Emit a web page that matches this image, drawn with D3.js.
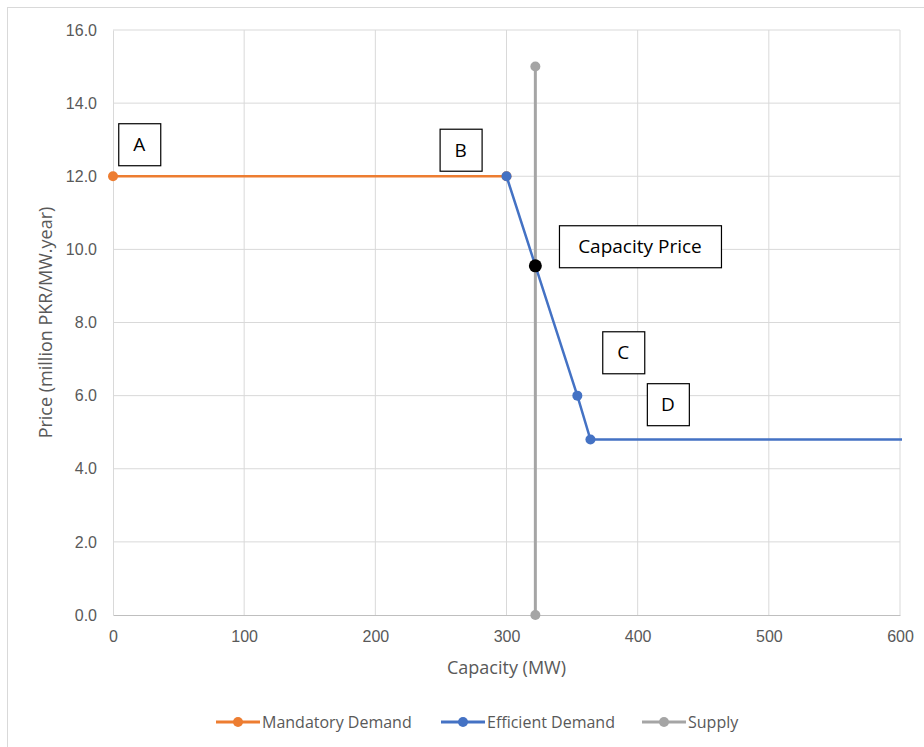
<!DOCTYPE html>
<html>
<head>
<meta charset="utf-8">
<script src="https://cdn.jsdelivr.net/npm/d3@7"></script>
<style>
  html, body { margin: 0; padding: 0; background: #fff; }
  svg { display: block; font-family: "Open Sans", Lato, "Noto Sans", sans-serif; }
</style>
</head>
<body>
<svg id="chart" width="924" height="747"></svg>
<script>
// Demand and supply curves for the capacity market
const mandatoryDemand = [
  { capacity: 0, price: 12.0 },
  { capacity: 300, price: 12.0 }
];
const efficientDemand = [
  { capacity: 300, price: 12.0 },
  { capacity: 354, price: 6.0 },
  { capacity: 364, price: 4.8 },
  { capacity: 700, price: 4.8 }
];
const supply = [
  { capacity: 322, price: 0.0 },
  { capacity: 322, price: 15.0 }
];
const clearingPoint = { capacity: 322, price: 9.55 };

const xTicks = [0, 100, 200, 300, 400, 500, 600];
const yTicks = [0, 2, 4, 6, 8, 10, 12, 14, 16];

// Text boxes anchored at (capacity, price) of their top-left corner
const labelBoxes = [
  { text: "A", capacity: 4, price: 13.45 },
  { text: "B", capacity: 249, price: 13.3 },
  { text: "Capacity Price", capacity: 340, price: 10.66 },
  { text: "C", capacity: 373, price: 7.76 },
  { text: "D", capacity: 407, price: 6.34 }
];

const seriesInfo = [
  { name: "Mandatory Demand", color: "#ED7D31", data: mandatoryDemand },
  { name: "Efficient Demand", color: "#4472C4", data: efficientDemand },
  { name: "Supply", color: "#A5A5A5", data: supply }
];

const svg = d3.select("#chart");
const margin = { left: 113, right: 24, top: 30, bottom: 132 };
const W = 924, H = 747;

// Outer chart frame
svg.append("rect")
  .attr("x", 7.5).attr("y", 7.5)
  .attr("width", W + 20).attr("height", H + 20)
  .attr("fill", "none").attr("stroke", "#d9d9d9").attr("stroke-width", 1);

const x = d3.scaleLinear().domain([0, 600]).range([margin.left, W - margin.right]);
const y = d3.scaleLinear().domain([0, 16]).range([H - margin.bottom, margin.top]);

// Gridlines
svg.append("g")
  .selectAll("line.vg").data(xTicks.filter(d => d > 0)).join("line")
  .attr("x1", d => x(d)).attr("x2", d => x(d))
  .attr("y1", y(16)).attr("y2", y(0))
  .attr("stroke", "#d9d9d9").attr("stroke-width", 1);
svg.append("g")
  .selectAll("line.hg").data(yTicks.filter(d => d > 0)).join("line")
  .attr("x1", x(0)).attr("x2", x(600))
  .attr("y1", d => y(d)).attr("y2", d => y(d))
  .attr("stroke", "#d9d9d9").attr("stroke-width", 1);

// Axes
const xAxis = svg.append("g")
  .attr("transform", `translate(0,${y(0)})`)
  .call(d3.axisBottom(x).tickValues(xTicks).tickSize(0).tickPadding(16).tickFormat(d3.format("d")));
xAxis.select(".domain").attr("stroke", "#bfbfbf").attr("stroke-width", 1);
xAxis.selectAll("text").attr("fill", "#595959").attr("font-size", 16);

const yAxis = svg.append("g")
  .attr("transform", `translate(${x(0)},0)`)
  .call(d3.axisLeft(y).tickValues(yTicks).tickSize(0).tickPadding(16).tickFormat(d3.format(".1f")));
yAxis.select(".domain").attr("stroke", "#d9d9d9").attr("stroke-width", 1);
yAxis.selectAll("text").attr("fill", "#595959").attr("font-size", 16);

// Axis titles
svg.append("text")
  .attr("x", (x(0) + x(600)) / 2).attr("y", 674)
  .attr("text-anchor", "middle").attr("fill", "#595959").attr("font-size", 18)
  .text("Capacity (MW)");
svg.append("text")
  .attr("transform", `translate(52,${(y(0) + y(16)) / 2}) rotate(-90)`)
  .attr("text-anchor", "middle").attr("fill", "#595959").attr("font-size", 18)
  .text("Price (million PKR/MW.year)");

// Series
svg.append("defs").append("clipPath").attr("id", "plot-clip")
  .append("rect")
  .attr("x", x(0) - 8).attr("y", y(16) - 8)
  .attr("width", x(600) - x(0) + 10).attr("height", y(0) - y(16) + 16);

const line = d3.line().x(d => x(d.capacity)).y(d => y(d.price));
const plot = svg.append("g").attr("clip-path", "url(#plot-clip)");

const drawOrder = [seriesInfo[2], seriesInfo[0], seriesInfo[1]];
drawOrder.forEach(s => {
  plot.append("path")
    .datum(s.data)
    .attr("d", line)
    .attr("fill", "none")
    .attr("stroke", s.color)
    .attr("stroke-width", s.name === "Supply" ? 3 : 2.5);
  plot.selectAll(null)
    .data(s.data.filter(d => d.capacity <= 600))
    .join("circle")
    .attr("cx", d => x(d.capacity)).attr("cy", d => y(d.price))
    .attr("r", 5)
    .attr("fill", s.color);
});

// Market clearing point
svg.append("circle")
  .attr("cx", x(clearingPoint.capacity)).attr("cy", y(clearingPoint.price))
  .attr("r", 6.5).attr("fill", "#000");

// Annotation boxes
labelBoxes.forEach(b => {
  const g = svg.append("g");
  const t = g.append("text")
    .attr("font-size", 19).attr("fill", "#000")
    .attr("text-anchor", "middle")
    .text(b.text);
  const wide = b.text.length > 1;
  const bw = wide ? 162 : 42;
  const bh = 42;
  const bx = x(b.capacity), by = y(b.price);
  g.insert("rect", "text")
    .attr("x", bx + 0.5).attr("y", by + 0.5)
    .attr("width", bw).attr("height", bh)
    .attr("fill", "#fff").attr("stroke", "#000").attr("stroke-width", 1.2);
  t.attr("x", bx + bw / 2).attr("y", by + bh / 2 + 7);
});

// Legend
const legendItems = [
  { s: seriesInfo[0], x0: 216 },
  { s: seriesInfo[1], x0: 441 },
  { s: seriesInfo[2], x0: 642 }
];
const ly = 722;
legendItems.forEach(li => {
  const g = svg.append("g");
  g.append("line")
    .attr("x1", li.x0).attr("x2", li.x0 + 44)
    .attr("y1", ly).attr("y2", ly)
    .attr("stroke", li.s.color).attr("stroke-width", 3);
  g.append("circle").attr("cx", li.x0 + 22).attr("cy", ly).attr("r", 5).attr("fill", li.s.color);
  g.append("text")
    .attr("x", li.x0 + 46).attr("y", ly + 5.5)
    .attr("fill", "#595959").attr("font-size", 16)
    .text(li.s.name);
});
</script>
</body>
</html>
